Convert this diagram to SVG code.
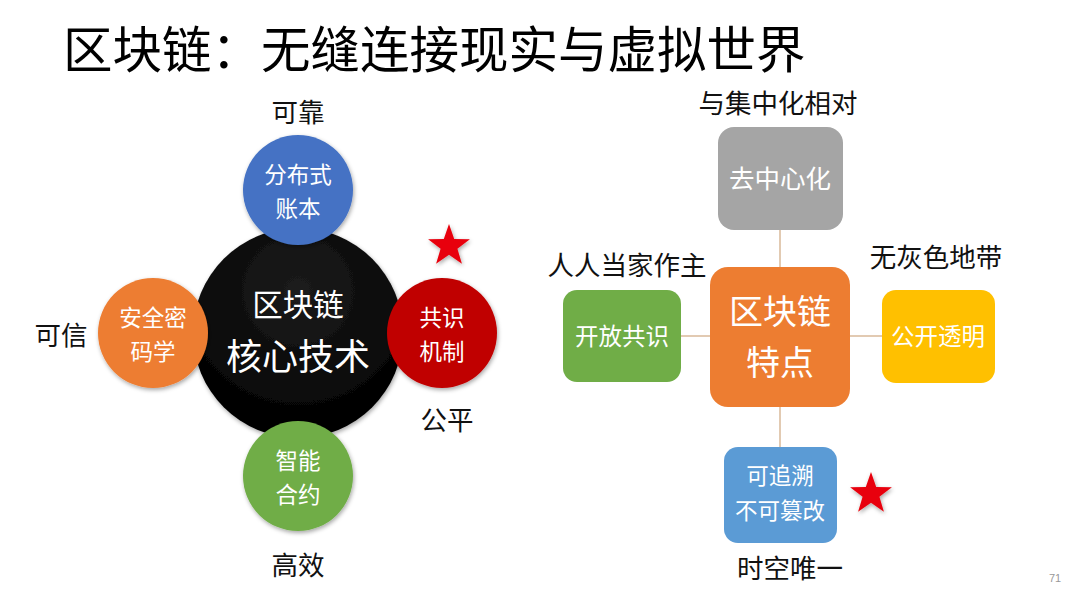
<svg xmlns="http://www.w3.org/2000/svg" width="1080" height="608" viewBox="0 0 1080 608">
<style>
text{font-family:"Noto Sans CJK SC","Noto Sans",sans-serif;text-anchor:middle}
.lbl{font-size:26.5px;fill:#111}
.w{fill:#fff}
.c22{font-size:22.5px}
.b24{font-size:23.5px}
.conn{stroke:#d8b898;stroke-width:1.5;fill:none}
</style>
<defs>
<radialGradient id="blk" cx="0.5" cy="0.3" r="0.7">
<stop offset="0" stop-color="#1c1c1c"/>
<stop offset="1" stop-color="#000"/>
</radialGradient>
<filter id="sh" x="-20%" y="-20%" width="140%" height="140%">
<feDropShadow dx="1" dy="2" stdDeviation="2" flood-opacity="0.35"/>
</filter>
<polygon id="star" points="0,-22 5.2,-7.1 20.9,-6.8 8.4,2.7 12.9,17.8 0,8.8 -12.9,17.8 -8.4,2.7 -20.9,-6.8 -5.2,-7.1" fill="#e8000b" filter="url(#sh)"/>
</defs>
<rect width="1080" height="608" fill="#fff"/>
<text x="63" y="68" style="font-size:49.5px;text-anchor:start" fill="#000">区块链：无缝连接现实与虚拟世界</text>

<g id="core">
<circle cx="298" cy="333" r="105" fill="url(#blk)" filter="url(#sh)"/>
<text x="298" y="316" class="w" style="font-size:30.5px">区块链</text>
<text x="298" y="370" class="w" style="font-size:36px">核心技术</text>
</g>
<g id="ledger">
<circle cx="298" cy="190" r="55" fill="#4472c4" filter="url(#sh)"/>
<text x="298" y="183" class="w c22">分布式</text>
<text x="298" y="217" class="w c22">账本</text>
</g>
<g id="crypto">
<circle cx="153" cy="333" r="55" fill="#ed7d31" filter="url(#sh)"/>
<text x="153" y="326" class="w c22">安全密</text>
<text x="153" y="360" class="w c22">码学</text>
</g>
<g id="consensus">
<circle cx="442" cy="333" r="55" fill="#c00000" filter="url(#sh)"/>
<text x="442" y="326" class="w c22">共识</text>
<text x="442" y="360" class="w c22">机制</text>
</g>
<g id="contract">
<circle cx="298" cy="476" r="55" fill="#70ad47" filter="url(#sh)"/>
<text x="298" y="469" class="w c22">智能</text>
<text x="298" y="503" class="w c22">合约</text>
</g>
<text x="298" y="122" class="lbl">可靠</text>
<text x="61" y="345" class="lbl">可信</text>
<text x="447" y="430" class="lbl">公平</text>
<text x="298" y="575" class="lbl">高效</text>
<use href="#star" x="449" y="246"/>

<g id="connectors">
<line class="conn" x1="780" y1="230" x2="780" y2="267"/>
<line class="conn" x1="780" y1="407" x2="780" y2="447"/>
<line class="conn" x1="681" y1="336" x2="710" y2="336"/>
<line class="conn" x1="850" y1="336" x2="882" y2="336"/>
</g>
<g id="decentral">
<rect x="718" y="127" width="125" height="103" rx="16" fill="#a5a5a5"/>
<text x="780" y="188" class="w" style="font-size:25.5px">去中心化</text>
</g>
<g id="feature">
<rect x="710" y="267" width="140" height="140" rx="18" fill="#ed7d31"/>
<text x="780" y="324" class="w" style="font-size:34px">区块链</text>
<text x="780" y="375" class="w" style="font-size:34px">特点</text>
</g>
<g id="open">
<rect x="563" y="290" width="118" height="92" rx="14" fill="#70ad47"/>
<text x="622" y="345" class="w b24">开放共识</text>
</g>
<g id="transparent">
<rect x="882" y="290" width="113" height="93" rx="14" fill="#ffc000"/>
<text x="938" y="345" class="w b24">公开透明</text>
</g>
<g id="trace">
<rect x="724" y="447" width="113" height="96" rx="14" fill="#5b9bd5"/>
<text x="780" y="484" class="w c22">可追溯</text>
<text x="780" y="519" class="w c22">不可篡改</text>
</g>
<text x="778" y="113" class="lbl">与集中化相对</text>
<text x="627" y="275" class="lbl">人人当家作主</text>
<text x="936" y="267" class="lbl">无灰色地带</text>
<text x="790" y="578" class="lbl">时空唯一</text>
<use href="#star" x="871" y="494"/>
<text x="1055" y="582" style="font-size:11px;font-family:'Liberation Sans',sans-serif" fill="#999">71</text>
</svg>
